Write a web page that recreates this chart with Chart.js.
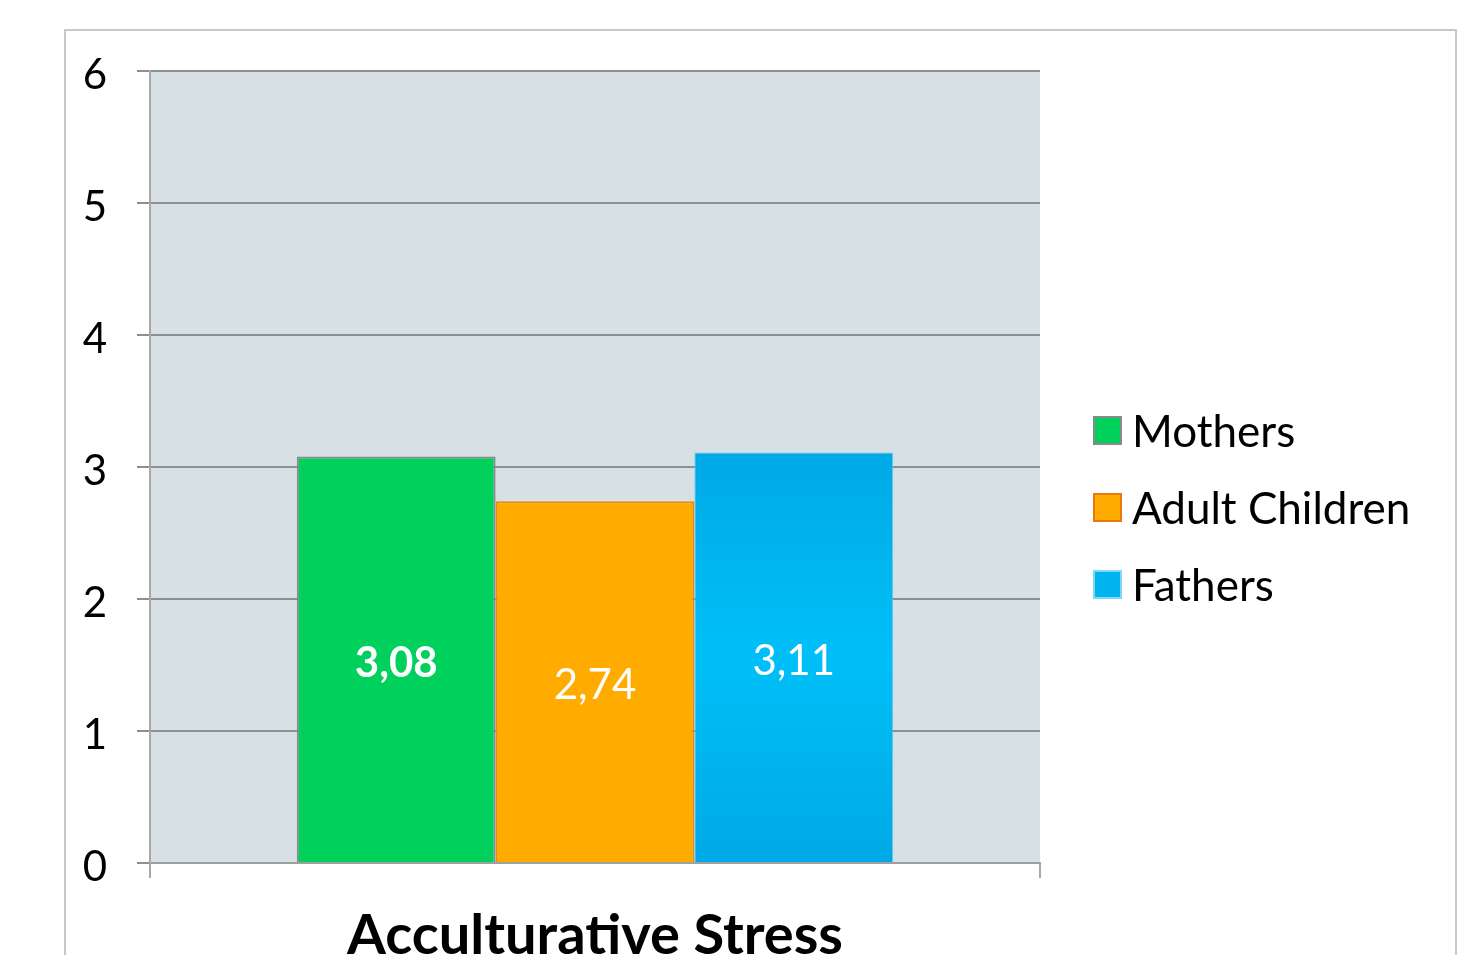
<!DOCTYPE html>
<html>
<head>
<meta charset="utf-8">
<script src="https://cdn.jsdelivr.net/npm/chart.js@4/dist/chart.umd.min.js"></script>
<style>
  html, body { margin: 0; padding: 0; background: #fff; }
  #wrap { width: 1480px; height: 955px; }
</style>
</head>
<body>
<div id="wrap"><canvas id="barChart" width="1480" height="955"></canvas></div>
<script>
// Data
const categories = ["Acculturative Stress"];
const seriesNames = ["Mothers", "Adult Children", "Fathers"];
const mothers = [3.08];
const adultChildren = [2.74];
const fathers = [3.11];
const yTickValues = [0, 1, 2, 3, 4, 5, 6];

const FONT = "Lato, 'Open Sans', sans-serif";

// gradient for the Fathers bar (lighter in the middle)
function fathersFill(context) {
  const chart = context.chart;
  const area = chart.chartArea;
  if (!area) return "#00b4f0";
  const g = chart.ctx.createLinearGradient(0, chart.scales.y.getPixelForValue(3.11), 0, area.bottom);
  g.addColorStop(0, "#00a9e6");
  g.addColorStop(0.5, "#00bff8");
  g.addColorStop(1, "#00a9e6");
  return g;
}

// white frame + plot background
const backgroundPlugin = {
  id: "backgroundPlugin",
  beforeDraw(chart) {
    const { ctx, chartArea } = chart;
    ctx.save();
    ctx.fillStyle = "#ffffff";
    ctx.fillRect(0, 0, chart.width, chart.height);
    ctx.strokeStyle = "#c8c8c8";
    ctx.lineWidth = 2;
    ctx.strokeRect(65, 30, 1391, 1000);
    ctx.fillStyle = "#d6e0e5";
    ctx.fillRect(chartArea.left, chartArea.top, chartArea.right - chartArea.left, chartArea.bottom - chartArea.top);
    ctx.restore();
  },
};

// value labels centered in each bar
const valueLabels = {
  id: "valueLabels",
  afterDatasetsDraw(chart) {
    const { ctx } = chart;
    ctx.save();
    ctx.fillStyle = "#ffffff";
    ctx.textAlign = "center";
    ctx.textBaseline = "middle";
    chart.data.datasets.forEach((ds, i) => {
      const meta = chart.getDatasetMeta(i);
      meta.data.forEach((bar, j) => {
        const txt = ds.data[j].toFixed(2).replace(".", ",");
        ctx.font = (i === 0 ? "bold " : "") + "42px " + FONT;
        ctx.fillText(txt, bar.x, (bar.y + bar.base) / 2 + 4);
      });
    });
    ctx.restore();
  },
};

// legend on the right
const sideLegend = {
  id: "sideLegend",
  afterDraw(chart) {
    const { ctx } = chart;
    const borders = ["#8a8a8a", "#e8780a", "#7fd6f5"];
    ctx.save();
    ctx.textAlign = "left";
    ctx.textBaseline = "middle";
    ctx.font = "44px " + FONT;
    chart.data.datasets.forEach((ds, i) => {
      const y = 431 + i * 77;
      const bg = i === 2 ? "#00b4f0" : ds.backgroundColor;
      ctx.fillStyle = bg;
      ctx.fillRect(1094, y - 14, 27, 27);
      ctx.strokeStyle = borders[i];
      ctx.lineWidth = 2;
      ctx.strokeRect(1094, y - 14, 27, 27);
      ctx.fillStyle = "#000000";
      ctx.fillText(ds.label, 1132, y + 2);
    });
    ctx.restore();
  },
};

const barCtx = document.getElementById("barChart").getContext("2d");

const myBarChart = new Chart(barCtx, {
  type: "bar",
  data: {
    labels: categories,
    datasets: [
      {
        label: seriesNames[0],
        data: mothers,
        backgroundColor: "#00d15c",
        borderColor: "#8a8a8a",
        borderWidth: 2,
      },
      {
        label: seriesNames[1],
        data: adultChildren,
        backgroundColor: "#ffab00",
        borderColor: "#ee8a00",
        borderWidth: 2,
      },
      {
        label: seriesNames[2],
        data: fathers,
        backgroundColor: fathersFill,
        borderColor: "#5fc8ee",
        borderWidth: 1,
      },
    ],
  },
  options: {
    responsive: false,
    animation: false,
    categoryPercentage: 0.67,
    barPercentage: 1.0,
    layout: {
      padding: { left: 0, top: 71, right: 440, bottom: 0 },
    },
    plugins: {
      legend: { display: false },
      tooltip: { enabled: false },
    },
    scales: {
      x: {
        afterFit(scale) {
          scale.height = 92;
        },
        grid: {
          drawOnChartArea: false,
          drawTicks: true,
          tickLength: 15,
          color: "#a8a8a8",
          lineWidth: 2,
        },
        border: { display: true, color: "#a0a0a0", width: 2 },
        ticks: {
          color: "#000000",
          padding: 24,
          font: { family: FONT, size: 56, weight: "bold" },
        },
      },
      y: {
        min: 0,
        max: 6,
        afterFit(scale) {
          scale.width = 150;
        },
        afterBuildTicks(scale) {
          scale.ticks = yTickValues.map((v) => ({ value: v }));
        },
        grid: {
          color: "#8e8e8e",
          lineWidth: 2,
          tickLength: 13,
        },
        border: { display: true, color: "#a8a8a8", width: 2 },
        ticks: {
          color: "#000000",
          padding: 30,
          labelOffset: 4,
          font: { family: FONT, size: 42 },
        },
      },
    },
  },
  plugins: [backgroundPlugin, valueLabels, sideLegend],
});
</script>
</body>
</html>
